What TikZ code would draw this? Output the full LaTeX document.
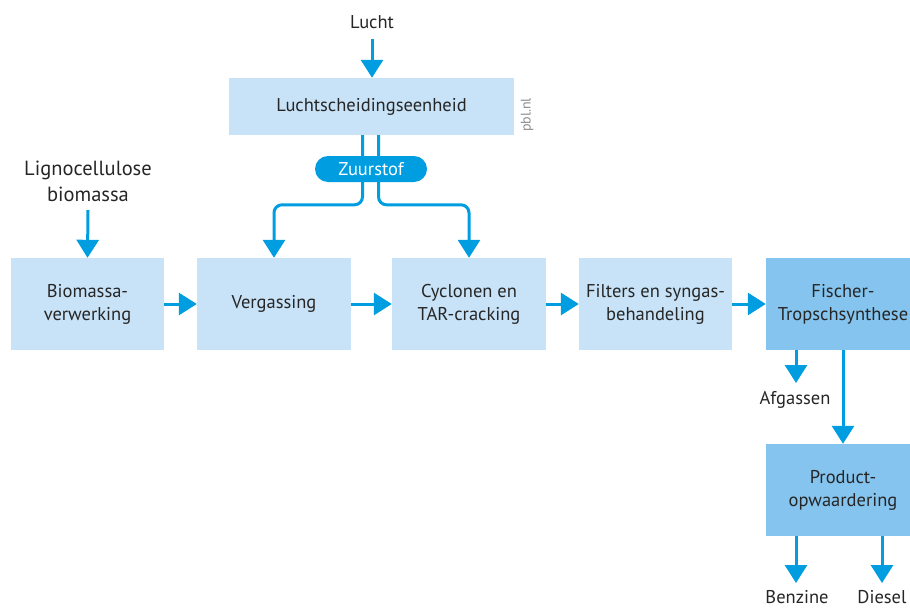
\documentclass[tikz,border=0pt]{standalone}
\usepackage{fontspec}
\setmainfont{PT Sans}
\usetikzlibrary{arrows.meta,calc}
\definecolor{lightbox}{RGB}{200,227,247}
\definecolor{darkbox}{RGB}{133,196,238}
\definecolor{flowblue}{RGB}{0,158,224}
\begin{document}
\begin{tikzpicture}[x=1pt,y=-1pt,
  txt/.style={font=\fontsize{18.5}{23}\selectfont, text=black!85, align=center, inner sep=0pt},
  procbox/.style={txt, fill=lightbox, minimum width=154pt, minimum height=92pt},
  darkproc/.style={procbox, fill=darkbox},
  flow/.style={draw=flowblue, line width=3pt, -{Triangle[length=18pt,width=22pt]}},
  pill/.style={fill=flowblue, text=white, rounded corners=13pt, minimum width=112pt, minimum height=26pt, inner sep=0pt, font=\fontsize{18.5}{20}\selectfont}
]
\useasboundingbox (0,0) rectangle (910,608);
% boxes
\node[procbox, minimum width=285pt, minimum height=57pt] (lse) at (371.5,106.5) {Luchtscheidingseenheid};
\node[procbox, minimum width=153pt] (bio) at (87.5,304) {Biomassa-\\verwerking};
\node[procbox] (verg) at (274,304) {Vergassing};
\node[procbox] (cyc) at (469,304) {Cyclonen en\\TAR-cracking};
\node[procbox, minimum width=153pt] (filt) at (655.5,304) {Filters en syngas-\\behandeling};
\node[darkproc] (fisch) at (843,304) {Fischer-\\Tropschsynthese};
\node[darkproc] (prod) at (843,490) {Product-\\opwaardering};
% texts
\node[txt] (lucht) at (372,22) {Lucht};
\node[txt, font=\fontsize{20.5}{26}\selectfont] (lig) at (88,181) {Lignocellulose\\biomassa};
\node[txt] (afg) at (795,400) {Afgassen};
\node[txt] (benz) at (797,597) {Benzine};
\node[txt] (dies) at (882,597) {Diesel};
\node[rotate=90, text=black!45, font=\fontsize{14}{16}\selectfont, inner sep=0pt] (pbl) at (527,115) {pbl.nl};
% free ends
\coordinate (luchtstart) at (372,39);
\coordinate (ligstart) at (88,210);
\coordinate (afgend) at (796,383);
\coordinate (benzend) at (796,583);
\coordinate (diesend) at (882,583);
% connectors
\draw[flow] (luchtstart) -- (lucht.south |- lse.north);
\draw[flow] (ligstart) -- (bio.north);
\draw[flow] (bio.east) -- (verg.west);
\draw[flow] (verg.east) -- (cyc.west);
\draw[flow] (cyc.east) -- (filt.west);
\draw[flow] (filt.east) -- (fisch.west);
\draw[flow, rounded corners=8pt] ([xshift=-9pt]lse.south) |- ([yshift=53pt]verg.north) -- (verg.north);
\draw[flow, rounded corners=8pt] ([xshift=7pt]lse.south) |- ([yshift=53pt]cyc.north) -- (cyc.north);
\draw[flow] ([xshift=-47pt]fisch.south) -- (afgend);
\draw[flow] (fisch.south) -- (prod.north);
\draw[flow] ([xshift=-47pt]prod.south) -- (benzend);
\draw[flow] ([xshift=39pt]prod.south) -- (diesend);
% pill on top
\node[pill] (zuur) at (371,169) {Zuurstof};
\end{tikzpicture}
\end{document}
